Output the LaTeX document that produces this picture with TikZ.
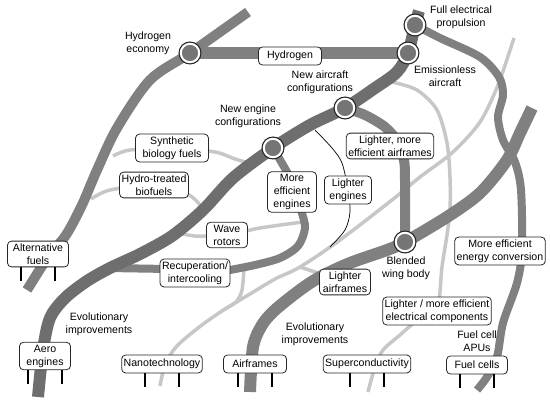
\documentclass[tikz,border=0pt]{standalone}
\usepackage{fontspec}
\setmainfont{Liberation Sans}
\usepackage{tikz}
\usetikzlibrary{calc}

\definecolor{trunk}{gray}{0.43}
\definecolor{route}{gray}{0.50}
\definecolor{spur}{gray}{0.78}
\definecolor{stopfill}{gray}{0.46}

\pgfdeclarelayer{tracks}
\pgfsetlayers{tracks,main}

\begin{document}
\begin{tikzpicture}[x=1pt,y=-1pt,
		font=\fontsize{10.6}{13}\selectfont,
		tag/.style={draw=black!85, fill=white, rounded corners=4pt, line width=0.8pt,
			align=center, inner xsep=2pt, inner ysep=2.5pt, minimum height=18pt},
		lbl/.style={align=center, inner sep=0pt},
		station/.style={circle, fill=stopfill, draw=white, line width=2pt,
			minimum size=18.5pt, inner sep=0pt,
			preaction={draw=black!85, line width=4.5pt}},
		heavy/.style={draw=route, line width=12pt},
		medium/.style={draw=route, line width=8pt},
		spurline/.style={draw=spur, line width=3.5pt},
		leg/.style={draw=black, line width=1.5pt}]
		% ---- Geometry ----
		\def\legdx{17}   % leg offset from box centre
		\def\legh{14}    % leg length
		
		\useasboundingbox (0,0) rectangle (550,405);
		
		% ---- Stations ----
		\node[station] (he)  at (190,53)  {};
		\node[station] (ea)  at (408,53)  {};
		\node[station] (fep) at (415,25)  {};
		\node[station] (nac) at (345,108) {};
		\node[station] (nec) at (273,148) {};
		\node[station] (bwb) at (405,242) {};
		
		% ---- Boxes (sources at the bottom) ----
		\node[tag, minimum width=61pt] (alt)  at (38,254)  {Alternative\\fuels};
		\node[tag, minimum width=51pt] (aero) at (45,356)  {Aero\\engines};
		\node[tag] (nano) at (162,364) {Nanotechnology};
		\node[tag, minimum width=63pt] (afr)  at (255,364) {Airframes};
		\node[tag] (sup)  at (367,364) {Superconductivity};
		\node[tag, minimum width=61pt] (fc)   at (477,365) {Fuel cells};
		
		% ---- Boxes (along the lines) ----
		\node[tag, minimum width=63pt] (hyd)  at (290,56)  {Hydrogen};
		\node[tag, minimum width=73pt] (sbf)  at (172,148) {Synthetic\\biology fuels};
		\node[tag] (htb)  at (154,185) {Hydro-treated\\biofuels};
		\node[tag, minimum width=41pt] (wave) at (227,235) {Wave\\rotors};
		\node[tag] (recup) at (195,273) {Recuperation/\\intercooling};
		\node[tag, minimum width=49pt] (mee)  at (292,192) {More\\efficient\\engines};
		\node[tag, minimum width=47pt] (leng) at (348,190) {Lighter\\engines};
		\node[tag] (lmea) at (390,146) {Lighter, more\\efficient airframes};
		\node[tag, minimum width=51pt] (lafr) at (345,282) {Lighter\\airframes};
		\node[tag] (meec) at (500,251) {More efficient\\energy conversion};
		\node[tag] (lmeec) at (437,311) {Lighter / more efficient\\electrical components};
		
		% ---- Free labels ----
		\node[lbl] (he-txt)  at (148,43)  {Hydrogen\\economy};
		\node[lbl] (fep-txt) at (461,17)  {Full electrical\\propulsion};
		\node[lbl] (ea-txt)  at (445,76)  {Emissionless\\aircraft};
		\node[lbl] (nac-txt) at (320,82)  {New aircraft\\configurations};
		\node[lbl] (nec-txt) at (248,116) {New engine\\configurations};
		\node[lbl] (bwb-txt) at (406,268) {Blended\\wing body};
		\node[lbl] (evo-l)   at (99,324)  {Evolutionary\\improvements};
		\node[lbl] (evo-r)   at (315,334) {Evolutionary\\improvements};
		\node[lbl] (apu)     at (477,341) {Fuel cell\\APUs};
		
		% ---- Legs under the source boxes ----
		\foreach \b in {alt,aero,nano,afr,sup,fc} {
			\draw[leg] ($(\b.south)+(-\legdx,0)$) -- ++(0,\legh);
			\draw[leg] ($(\b.south)+(\legdx,0)$) -- ++(0,\legh);
		}
		
		\begin{pgfonlayer}{tracks}
			% ---- Light spurs ----
			\draw[spurline] plot[smooth] coordinates {(113,156) (130,150) (sbf.center) (215,152) (235,159) (253,164)};
			\draw[spurline] plot[smooth] coordinates {(91,199) (110,190) (htb.center) (189,195) (203,209)};
			\draw[spurline] plot[smooth] coordinates {(176,232) (195,236) (wave.center) (260,228) (303,222)};
			\draw[spurline] plot[smooth] coordinates {(160,386) (165,365) (176,347) (198,328) (222,311)
				(250,294) (275,279) (300,267) (340,240) (392,200) (420,177) (453,152) (480,122) (498,85) (514,38)};
			\draw[spurline] plot[smooth] coordinates {(244,268) (242,290) (236,302) (223,310)};
			\draw[spurline] (300,267) -- (lafr.center);
			\draw[spurline] plot[smooth] coordinates {(392,82) (417,90) (437,110) (447,143) (450,177)
				(450,210) (447,235) (442,267) (lmeec.center) (420,318) (400,335) (383,350) (375,367) (368,392)};
			
			% ---- Thin black spur (lighter engines) ----
			\draw[black, line width=0.7pt] plot[smooth] coordinates {(315,130) (332,148) (342,163) (leng.center)
				(350,212) (345,230) (330,247)};
			
			% ---- Electrical line ----
			\draw[medium] plot[smooth] coordinates {(fep.center) (440,38) (480,57) (499,77) (503,95) (498,117)
				(503,140) (515,162) (521,190) (522,250) (517,283) (503,323) (497,357) (487,377) (477,390)};
			
			% ---- Alternative fuels / hydrogen ----
			\draw[medium, line width=10pt] plot[smooth] coordinates {(27,290) (48,257) (66,235) (82,205)
				(97,170) (117,128) (150,80) (he.center) (248,12)};
			\draw[heavy] (he.center) -- (ea.center);
			
			% ---- Airframes / blended wing body ----
			\draw[heavy] plot[smooth] coordinates {(250,392) (253,347) (262,325) (275,310) (300,290)
				(320,277) (350,263) (387,250) (bwb.center) (447,217) (480,193) (507,160) (520,133) (532,108)};
			\draw[medium, line width=10pt] plot[smooth] coordinates {(nac.center) (365,115) (385,127)
				(398,142) (404,160) (405,180) (bwb.center)};
			
			% ---- Engine branch ----
			\draw[medium] plot[smooth] coordinates {(nec.center) (283,165) (292,182) (301,210) (305,228)
				(298,246) (280,258) (255,265) (230,270)} -- (108,268);
			
			% ---- Aero engines trunk ----
			\draw[heavy, draw=trunk] plot[smooth] coordinates {(38,397) (43,350) (50,318) (65,298) (87,281)
				(110,268) (140,254) (172,236) (203,210) (233,178) (nec.center) (310,125) (nac.center)
				(375,88) (397,72) (ea.center) (fep.center) (419,11)};
		\end{pgfonlayer}
		
	\end{tikzpicture}
\end{document}
